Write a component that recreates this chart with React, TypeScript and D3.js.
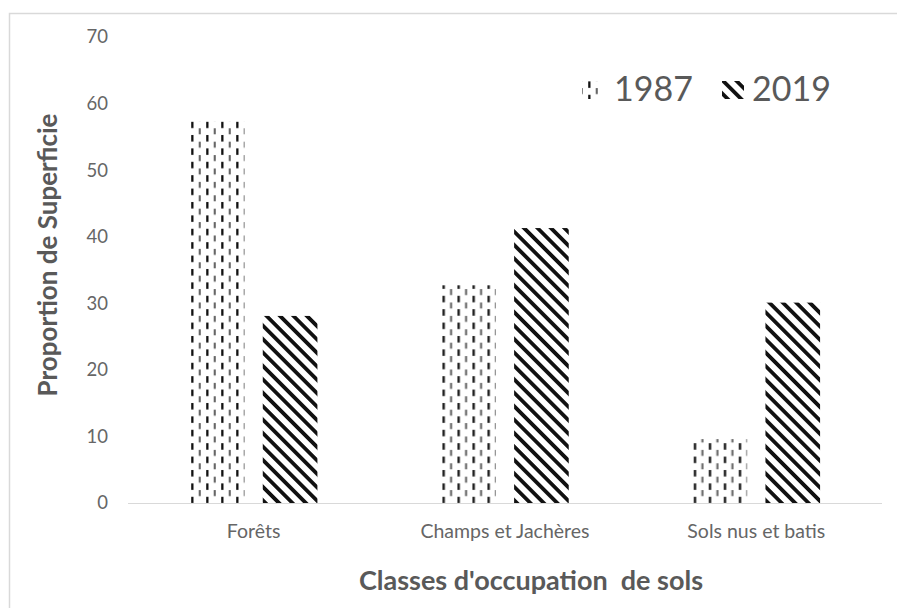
import * as d3 from 'd3';

const categories = ['Forêts', 'Champs et Jachères', 'Sols nus et batis'];
const series = ['1987', '2019'];
const values1987 = [57.3, 32.7, 9.6];
const values2019 = [28.1, 41.3, 30.1];
const yTicks = [0, 10, 20, 30, 40, 50, 60, 70];

const W = 897;
const H = 608;
const FONT = 'Lato, "Open Sans", sans-serif';

export default function App() {
  const x = d3.scaleBand<string>().domain(categories).range([128, 882]);
  const xInner = d3
    .scaleBand<string>()
    .domain(series)
    .range([0, x.bandwidth()])
    .paddingInner(0.25)
    .paddingOuter(0.85);
  const y = d3.scaleLinear().domain([0, 70]).range([503, 37]);

  const rows = categories.map((c, i) => ({
    cat: c,
    vals: [values1987[i], values2019[i]],
  }));

  return (
    <svg
      width={W}
      height={H}
      style={{ position: 'absolute', left: 0, top: 0, background: '#fff' }}
    >
      <defs>
        <pattern id="dash" width="15" height="13.4" patternUnits="userSpaceOnUse">
          <rect x="3.2" y="1" width="2.3" height="6.5" fill="#111" />
          <rect x="10.7" y="7.7" width="2.1" height="6" fill="#666" />
          <rect x="10.7" y="-5.7" width="2.1" height="6" fill="#666" />
        </pattern>
        <pattern
          id="diag"
          width="9.5"
          height="9.5"
          patternUnits="userSpaceOnUse"
          patternTransform="rotate(45)"
        >
          <rect x="0" y="0" width="9.5" height="3.8" fill="#111" />
        </pattern>
      </defs>

      <rect x={9.5} y={13.5} width={W + 20} height={H + 20} fill="none" stroke="#d9d9d9" strokeWidth={1.5} />

      {yTicks.map((t) => (
        <text
          key={t}
          x={108}
          y={y(t)}
          dy="0.35em"
          textAnchor="end"
          fontFamily={FONT}
          fontSize={18.5}
          fill="#666"
        >
          {t}
        </text>
      ))}

      <line x1={128} x2={882} y1={y(0) + 0.5} y2={y(0) + 0.5} stroke="#d9d9d9" strokeWidth={1.2} />

      {rows.map((r) => (
        <g key={r.cat} transform={`translate(${x(r.cat)},0)`}>
          {series.map((s, j) => (
            <rect
              key={s}
              x={xInner(s)}
              y={y(r.vals[j])}
              width={xInner.bandwidth()}
              height={y(0) - y(r.vals[j])}
              fill={j === 0 ? 'url(#dash)' : 'url(#diag)'}
            />
          ))}
          <text
            x={x.bandwidth() / 2}
            y={538}
            textAnchor="middle"
            fontFamily={FONT}
            fontSize={19.5}
            fill="#666"
          >
            {r.cat}
          </text>
        </g>
      ))}

      <text
        transform={`translate(57,${y(35) - 15}) rotate(-90)`}
        textAnchor="middle"
        fontFamily={FONT}
        fontSize={26}
        fontWeight="bold"
        fill="#595959"
      >
        Proportion de Superficie
      </text>
      <text
        x={x(categories[1])! + x.bandwidth() / 2 + 26}
        y={590}
        textAnchor="middle"
        fontFamily={FONT}
        fontSize={27}
        fontWeight="bold"
        fill="#595959"
        style={{ whiteSpace: 'pre' }}
      >
        {"Classes d'occupation  de sols"}
      </text>

      <g fontFamily={FONT} fontSize={34} fill="#595959">
        <rect x={582} y={81} width={17} height={18} fill="url(#dash)" />
        <text x={614} y={101}>{series[0]}</text>
        <rect x={722} y={81} width={22} height={18} fill="url(#diag)" />
        <text x={752} y={101}>{series[1]}</text>
      </g>
    </svg>
  );
}
